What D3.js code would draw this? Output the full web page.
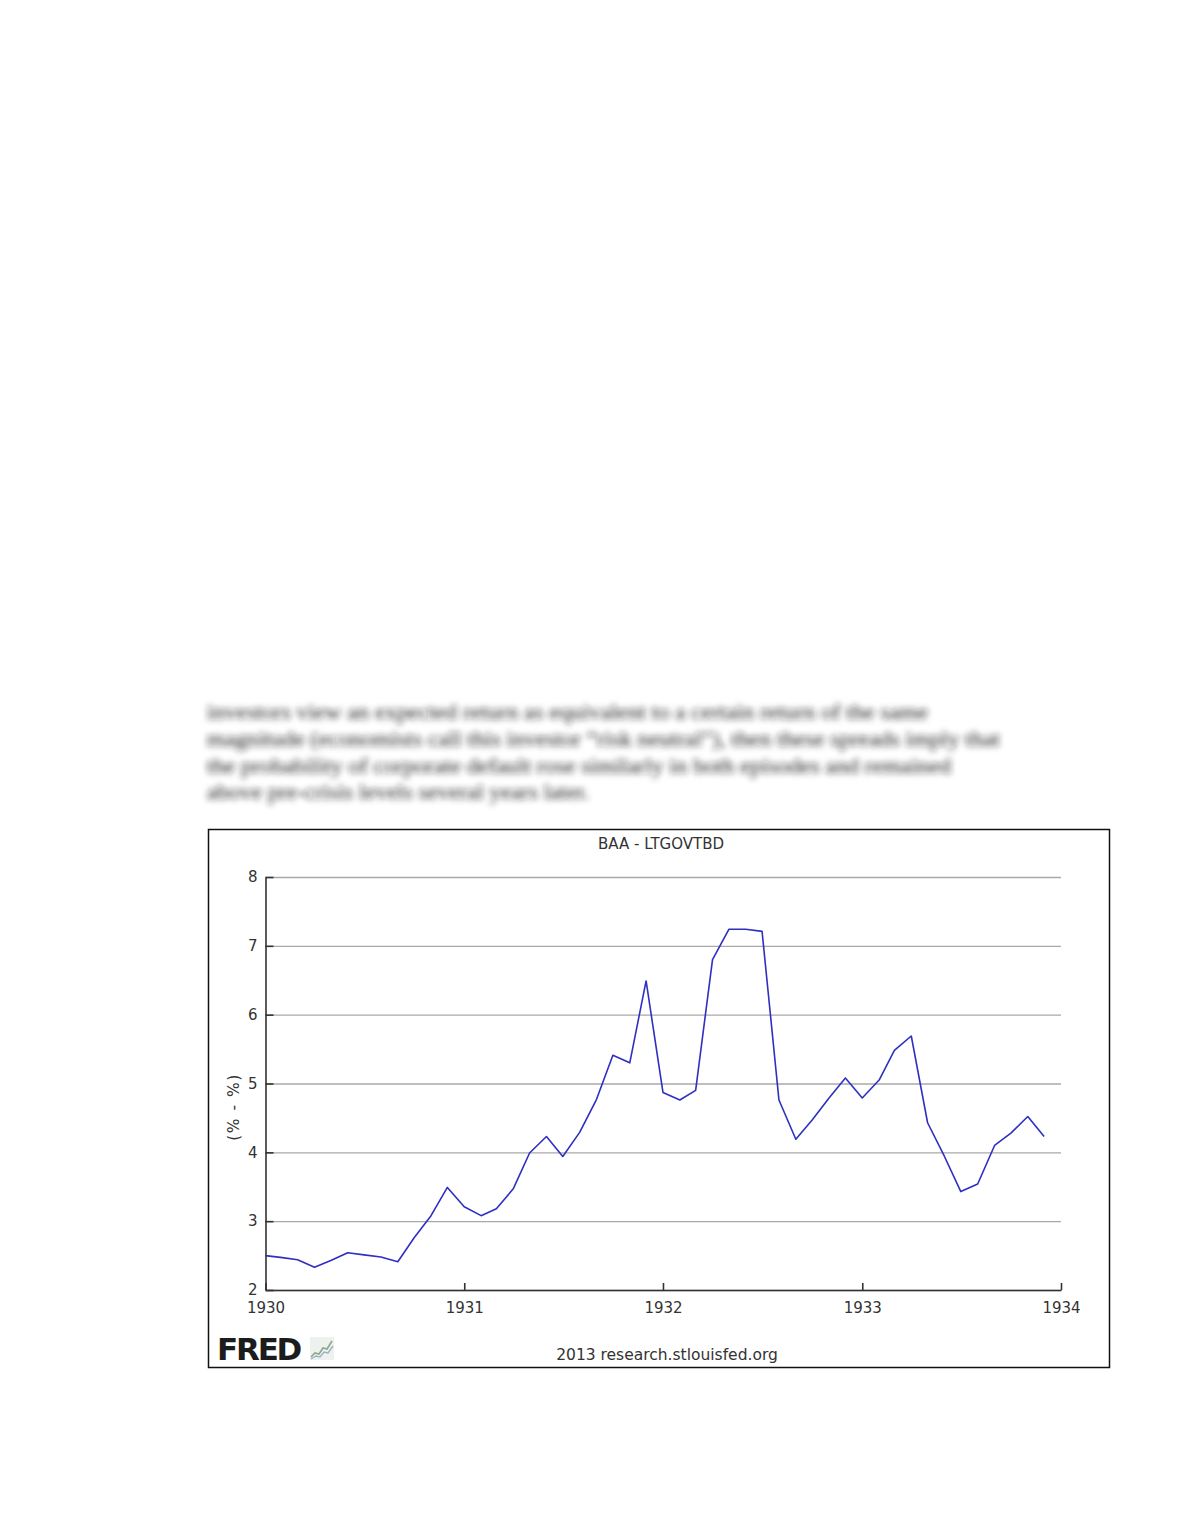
<!DOCTYPE html>
<html>
<head>
<meta charset="utf-8">
<script src="https://cdn.jsdelivr.net/npm/d3@7"></script>
<style>
  html, body { margin: 0; padding: 0; background: #fff; }
  svg { display: block; }
</style>
</head>
<body>
<svg id="page" width="1180" height="1527"></svg>
<script>
// monthly spread, BAA minus long-term government bonds, Jan 1930 .. Dec 1933
const startMonth = new Date(Date.UTC(1930, 0, 1));
const spread = [
    2.50, 2.47, 2.44, 2.33, 2.43, 2.54, 2.51, 2.48, 2.41, 2.76, 3.08, 3.49,
    3.21, 3.08, 3.18, 3.47, 3.99, 4.23, 3.94, 4.29, 4.77, 5.41, 5.30, 6.49,
    4.87, 4.76, 4.90, 6.80, 7.24, 7.24, 7.21, 4.76, 4.19, 4.47, 4.79, 5.08,
    4.79, 5.05, 5.48, 5.69, 4.43, 3.94, 3.43, 3.54, 4.10, 4.28, 4.52, 4.23
];
const yearTicks = [1930, 1931, 1932, 1933, 1934];
const valueTicks = [2, 3, 4, 5, 6, 7, 8];
const chartTitle = 'BAA - LTGOVTBD';
const yLabel = '(% - %)';
const footer = '2013 research.stlouisfed.org';
const paragraph = [
    'investors view an expected return as equivalent to a certain return of the same',
    'magnitude (economists call this investor \u201crisk neutral\u201d), then these spreads imply that',
    'the probability of corporate default rose similarly in both episodes and remained',
    'above pre-crisis levels several years later.'
];
const paragraphWidths = [721, 793, 744, 382];

const svg = d3.select('#page');
const font = '"DejaVu Sans", Verdana, sans-serif';

/*
 * blurred body text above the figure
 */
const defs = svg.append('defs');
defs.append('filter')
    .attr('id', 'blur')
    .attr('x', '-5%').attr('y', '-50%')
    .attr('width', '110%').attr('height', '200%')
    .append('feGaussianBlur')
    .attr('stdDeviation', 3.1);

svg.append('g')
    .attr('filter', 'url(#blur)')
    .selectAll('text')
    .data(paragraph)
    .join('text')
    .attr('x', 207)
    .attr('y', (d, i) => 719 + i * 26.8)
    .attr('textLength', (d, i) => paragraphWidths[i])
    .attr('lengthAdjust', 'spacingAndGlyphs')
    .style('font-family', '"Liberation Serif", "DejaVu Serif", serif')
    .style('font-size', '20px')
    .style('fill', '#1e1e1e')
    .text(d => d);

/*
 * figure frame
 */
svg.append('rect')
    .attr('x', 208.5).attr('y', 829.5)
    .attr('width', 901).attr('height', 538)
    .attr('fill', '#fff')
    .attr('stroke', '#111')
    .attr('stroke-width', 1.5);

const plot = { left: 265.5, right: 1061, top: 877, bottom: 1290 };

const x = d3.scaleUtc()
    .domain([new Date(Date.UTC(1930, 0, 1)), new Date(Date.UTC(1934, 0, 1))])
    .range([plot.left, plot.right]);
const y = d3.scaleLinear()
    .domain([2, 8])
    .range([plot.bottom, plot.top]);

const data = spread.map((v, i) => ({ date: d3.utcMonth.offset(startMonth, i), value: v }));

// gridlines
svg.append('g')
    .attr('transform', `translate(${plot.left},0)`)
    .call(d3.axisLeft(y).tickValues(valueTicks).tickSize(-(plot.right - plot.left)).tickFormat(''))
    .call(g => g.select('.domain').remove())
    .call(g => g.selectAll('line').attr('stroke', '#a9a9a9').attr('stroke-width', 1.3));

// series
svg.append('path')
    .datum(data)
    .attr('fill', 'none')
    .attr('stroke', '#2f2fc2')
    .attr('stroke-width', 1.6)
    .attr('stroke-linejoin', 'round')
    .attr('d', d3.line().x(d => x(d.date)).y(d => y(d.value)));

// y axis
svg.append('g')
    .attr('transform', `translate(${plot.left},0)`)
    .call(d3.axisLeft(y).tickValues(valueTicks).tickSize(-8).tickSizeOuter(0).tickPadding(8).tickFormat(d3.format('d')))
    .call(g => g.select('.domain').attr('stroke', '#333').attr('stroke-width', 1.6))
    .call(g => g.selectAll('line').attr('stroke', '#333').attr('stroke-width', 1.6))
    .call(g => g.selectAll('text')
        .style('font-family', font).style('font-size', '15px').attr('fill', '#333'));

// x axis
svg.append('g')
    .attr('transform', `translate(0,${plot.bottom})`)
    .call(d3.axisBottom(x)
        .tickValues(yearTicks.map(yr => new Date(Date.UTC(yr, 0, 1))))
        .tickSize(-7).tickSizeOuter(0).tickPadding(12)
        .tickFormat(d3.utcFormat('%Y')))
    .call(g => g.select('.domain').attr('stroke', '#333').attr('stroke-width', 1.6))
    .call(g => g.selectAll('line').attr('stroke', '#333').attr('stroke-width', 1.6))
    .call(g => g.selectAll('text')
        .style('font-family', font).style('font-size', '15px').attr('fill', '#333'));

// title and axis label
svg.append('text')
    .attr('x', 661).attr('y', 849)
    .attr('text-anchor', 'middle')
    .style('font-family', font).style('font-size', '15px').attr('fill', '#333')
    .text(chartTitle);

svg.append('text')
    .attr('transform', 'translate(239,1107) rotate(-90)')
    .attr('text-anchor', 'middle')
    .style('font-family', font).style('font-size', '15.5px')
    .style('letter-spacing', '1.5px').attr('fill', '#333')
    .text(yLabel);

// footer
svg.append('text')
    .attr('x', 667).attr('y', 1360)
    .attr('text-anchor', 'middle')
    .style('font-family', font).style('font-size', '15.5px').attr('fill', '#333')
    .text(footer);

svg.append('text')
    .attr('x', 217).attr('y', 1360)
    .style('font-family', font).style('font-size', '31px')
    .style('font-weight', 'bold').style('letter-spacing', '-2.2px')
    .attr('fill', '#1c1c1c')
    .text('FRED');

// small chart icon next to the logo
const icon = svg.append('g').attr('transform', 'translate(310,1337)');
icon.append('rect').attr('width', 24).attr('height', 23).attr('fill', '#eef2ee');
icon.append('path')
    .attr('d', 'M1,20 L5,16 L9,17 L13,11 L17,12 L22,4')
    .attr('fill', 'none').attr('stroke', '#8aa88a').attr('stroke-width', 1.6);
icon.append('path')
    .attr('d', 'M1,22 L6,19 L10,20 L14,15 L18,16 L23,9')
    .attr('fill', 'none').attr('stroke', '#9db0c8').attr('stroke-width', 1.4);
</script>
</body>
</html>
